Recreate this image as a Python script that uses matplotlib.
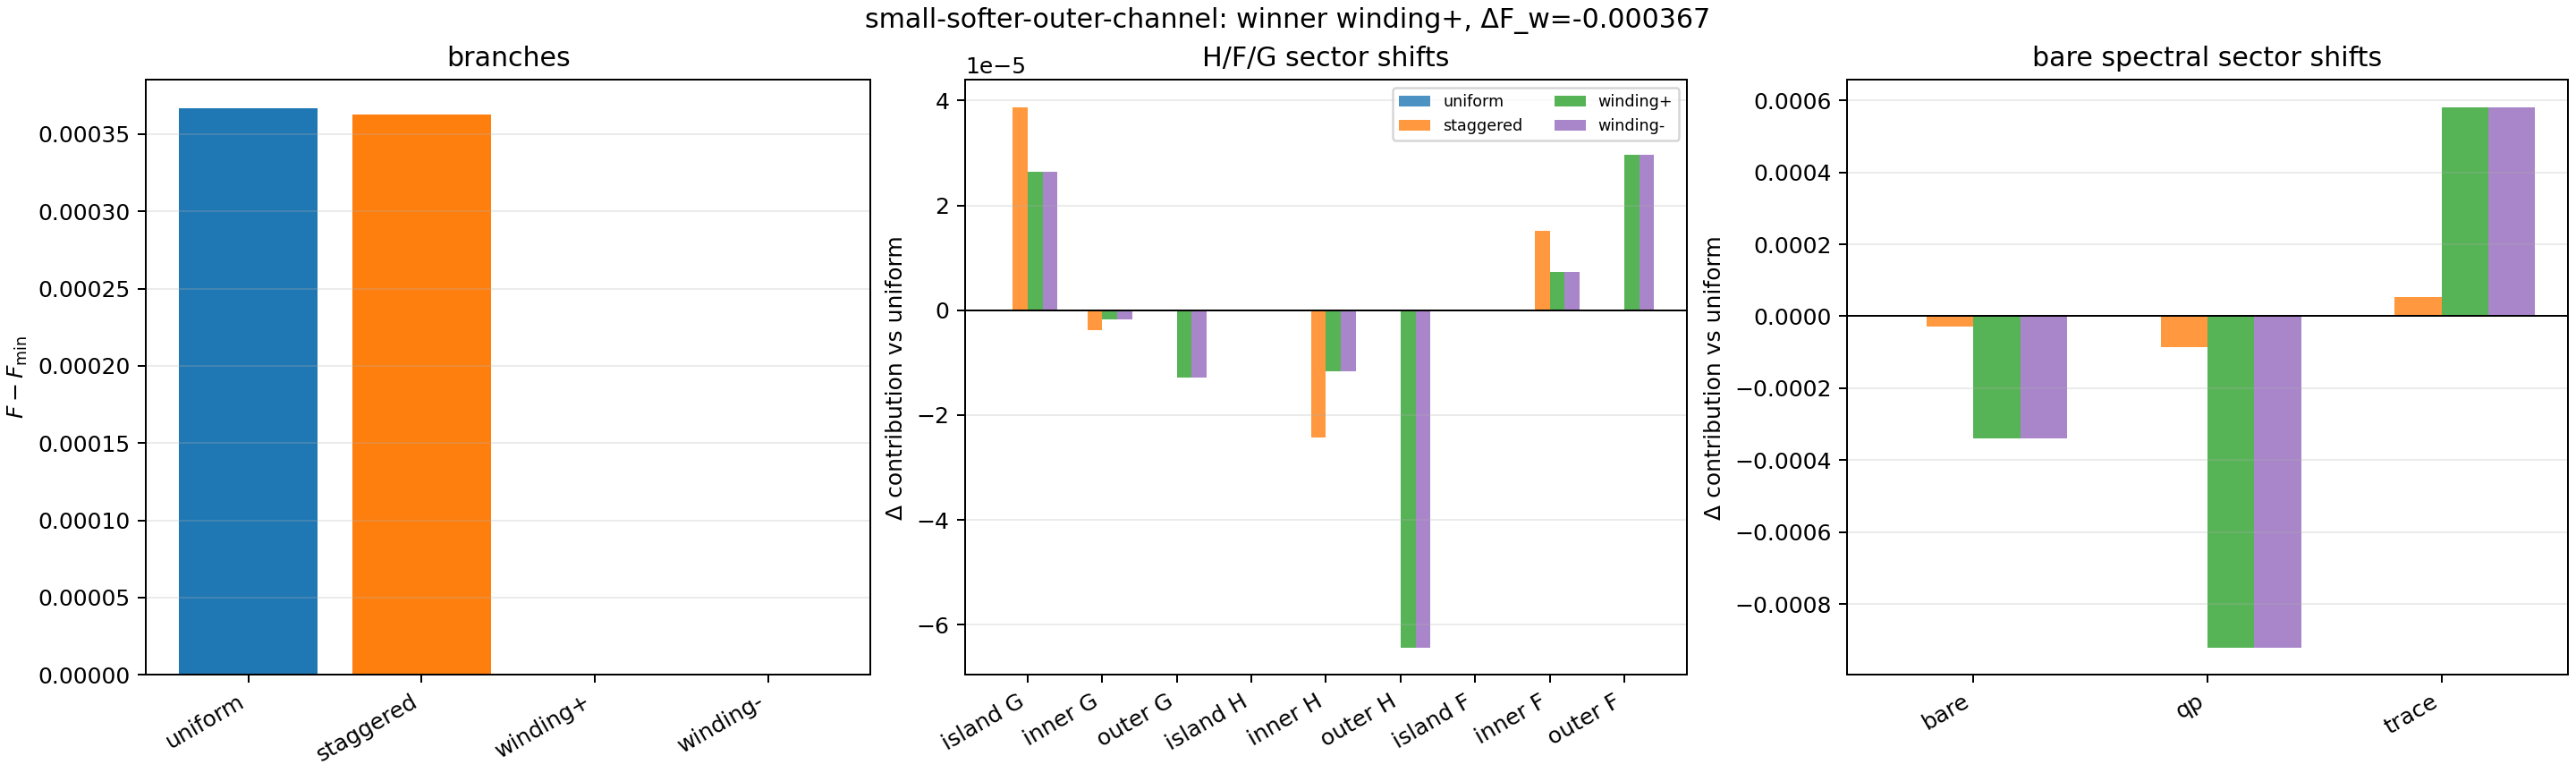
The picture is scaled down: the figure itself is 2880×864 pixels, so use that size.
import numpy as np
import matplotlib
matplotlib.use("Agg")
import matplotlib.pyplot as plt

branches = ["uniform", "staggered", "winding+", "winding-"]
branch_colors = ["tab:blue", "tab:orange", "tab:green", "tab:purple"]
branch_free = [0.0003668, 0.0003627, 0.0, 0.0]

sector_labels = ["island G", "inner G", "outer G", "island H", "inner H",
                 "outer H", "island F", "inner F", "outer F"]
sector_uniform = [0, 0, 0, 0, 0, 0, 0, 0, 0]
sector_staggered = [3.88e-5, -0.376e-5, 0.0, 0.0, -2.43e-5, 0.0, 0.0, 1.51e-5, 0.0]
sector_windp = [2.64e-5, -0.171e-5, -1.28e-5, 0.0, -1.16e-5, -6.44e-5, 0.0, 0.73e-5, 2.96e-5]
sector_windm = [2.64e-5, -0.171e-5, -1.28e-5, 0.0, -1.16e-5, -6.44e-5, 0.0, 0.73e-5, 2.96e-5]

spec_labels = ["bare", "qp", "trace"]
spec_uniform = [0.0, 0.0, 0.0]
spec_staggered = [-0.0000299, -0.0000847, 0.000054]
spec_windp = [-0.000339, -0.000922, 0.000582]
spec_windm = [-0.000339, -0.000922, 0.000582]

suptitle = "small-softer-outer-channel: winner winding+, ΔF_w=-0.000367"

fig = plt.figure(figsize=(16, 4.8), dpi=180)
bottom, height = 0.12697, 0.76968
ax1 = fig.add_axes([0.05677, bottom, 0.2811, height])
ax2 = fig.add_axes([0.37465, bottom, 0.2802, height])
ax3 = fig.add_axes([0.71701, bottom, 0.2799, height])

# Panel 1
ax1.bar(np.arange(len(branches)), branch_free, color=branch_colors)
ax1.set_xticks(np.arange(len(branches)))
ax1.set_xticklabels(branches, rotation=30, ha="right")
ax1.set_ylabel(r"$F - F_{\min}$")
ax1.set_title("branches")
ax1.grid(axis="y", alpha=0.25)

def grouped(ax, labels, series, title, legend=False):
    x = np.arange(len(labels))
    w = 0.2
    for i, (vals, name, c) in enumerate(zip(series, branches, branch_colors)):
        ax.bar(x + (i - 1.5) * w, vals, width=w, color=c, alpha=0.8, label=name)
    ax.axhline(0, color="k", lw=0.8)
    ax.set_xticks(x)
    ax.set_xticklabels(labels, rotation=30, ha="right")
    ax.set_ylabel("Δ contribution vs uniform")
    ax.set_title(title)
    ax.grid(axis="y", alpha=0.25)
    if legend:
        ax.legend(ncol=2, fontsize=7, loc="upper right")

grouped(ax2, sector_labels,
        [sector_uniform, sector_staggered, sector_windp, sector_windm],
        "H/F/G sector shifts", legend=True)
grouped(ax3, spec_labels,
        [spec_uniform, spec_staggered, spec_windp, spec_windm],
        "bare spectral sector shifts")

fig.suptitle(suptitle, y=0.9907, va="top")
fig.savefig("out.png", dpi=180)
